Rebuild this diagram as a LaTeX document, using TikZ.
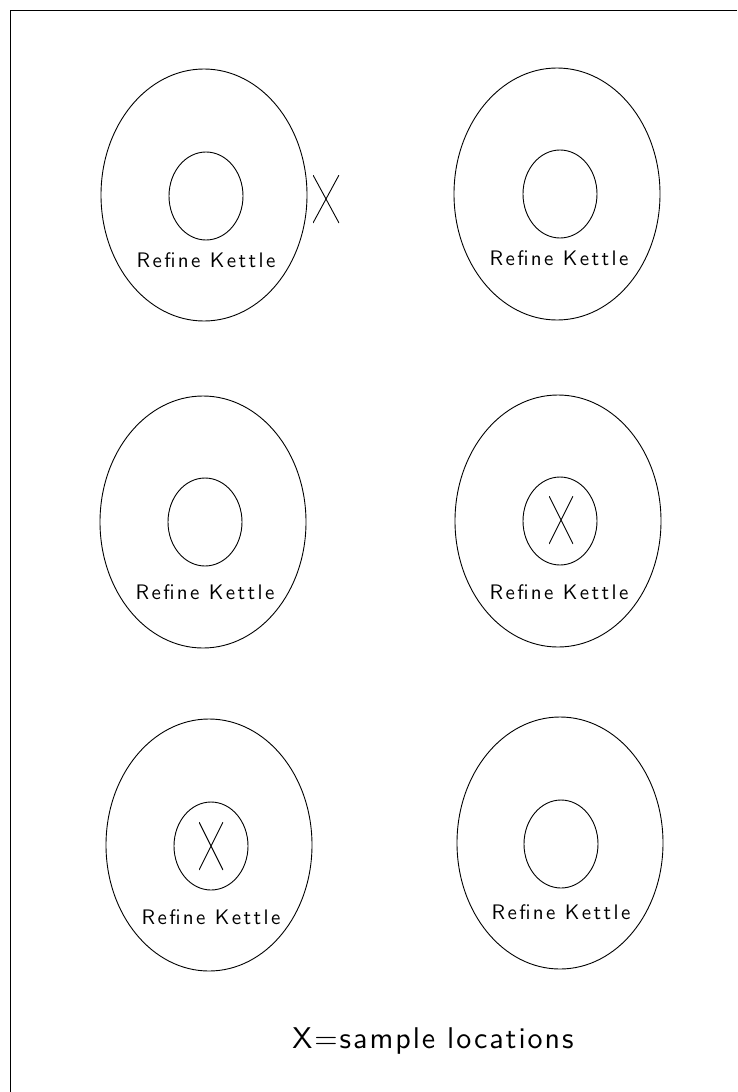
\documentclass[tikz,border=0pt]{standalone}
\usepackage{fontspec}
\newfontfamily\plotfont{lmsans10-regular.otf}[LetterSpace=11.5]
\newfontfamily\legendfont{lmsans10-regular.otf}[LetterSpace=6.5]
\usepackage{tikz}
\usetikzlibrary{shapes.geometric,positioning}

\tikzset{
  kettlering/.style={draw,ellipse,line width=0.9pt,minimum width=206pt,minimum height=252pt,inner sep=0pt},
  kettle/.style={draw,ellipse,line width=0.9pt,minimum width=74pt,minimum height=88pt,inner sep=0pt},
  kettlelabel/.style={font=\plotfont\fontsize{21}{24}\selectfont,inner sep=0pt},
  samplemark/.style={minimum width=#1,minimum height=48pt,inner sep=0pt,
    path picture={\draw[line width=0.9pt] (path picture bounding box.south west) -- (path picture bounding box.north east)
      (path picture bounding box.north west) -- (path picture bounding box.south east);}},
  samplemark/.default=26pt
}

\begin{document}
\begin{tikzpicture}[x=1pt,y=-1pt]
  \useasboundingbox (0,0) rectangle (737,1092);
  % frame
  \draw[line width=1pt] (10,1092) -- (10,10) -- (737,10);

  % kettles, three rows of two
  \node[kettlering] (ring1) at (204,195) {};
  \node[kettle] (pot1) at (206,196) {};
  \node[kettlelabel] (lab1) at (206,260) {Refine Kettle};
  \node[samplemark] (mark1) at (326,199) {};

  \node[kettlering] (ring2) at (557,194) {};
  \node[kettle] (pot2) at (560,194) {};
  \node[kettlelabel] (lab2) at (559,258) {Refine Kettle};

  \node[kettlering] (ring3) at (203,522) {};
  \node[kettle] (pot3) at (205,522) {};
  \node[kettlelabel] (lab3) at (205,592) {Refine Kettle};

  \node[kettlering] (ring4) at (558,521) {};
  \node[kettle] (pot4) at (560,521) {};
  \node[kettlelabel] (lab4) at (559,592) {Refine Kettle};
  \node[samplemark=24pt] (mark4) at (561,520) {};

  \node[kettlering] (ring5) at (209,845) {};
  \node[kettle] (pot5) at (211,846) {};
  \node[kettlelabel] (lab5) at (211,917) {Refine Kettle};
  \node[samplemark=24pt] (mark5) at (211,846) {};

  \node[kettlering] (ring6) at (560,843) {};
  \node[kettle] (pot6) at (561,844) {};
  \node[kettlelabel] (lab6) at (561,912) {Refine Kettle};

  % legend
  \node[font=\legendfont\fontsize{30}{34}\selectfont,inner sep=0pt] (legend) at (433,1041) {X=sample locations};
\end{tikzpicture}
\end{document}
